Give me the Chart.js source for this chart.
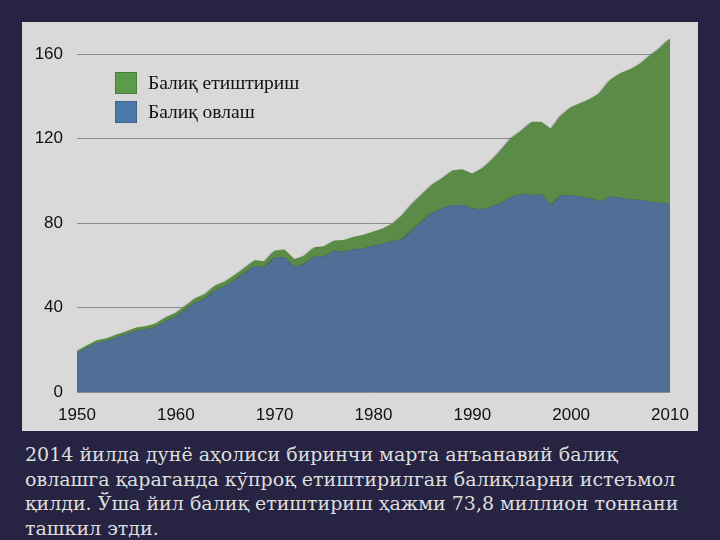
<!DOCTYPE html>
<html>
<head>
<meta charset="utf-8">
<script src="https://cdn.jsdelivr.net/npm/chart.js@4.4.1/dist/chart.umd.min.js"></script>
<style>
  html, body { margin: 0; padding: 0; }
  body { width: 720px; height: 540px; background: #262442; position: relative; overflow: hidden; }
  #panel { position: absolute; left: 22px; top: 22px; width: 676px; height: 409px; background: #d9d9d9; }
  #c { position: absolute; left: 0; top: 0; }
  #legend { position: absolute; left: 115px; top: 72px; font-family: "Liberation Serif", "Times New Roman", serif; font-size: 19.5px; color: #111; }
  .item { position: relative; height: 29px; }
  .sw { position: absolute; left: 0; top: 0; width: 22px; height: 22px; box-sizing: border-box; border: 1px solid rgba(0,0,0,0.18); }
  .lbl { position: absolute; left: 33px; top: 0; line-height: 22px; white-space: nowrap; }
  #caption { position: absolute; left: 25px; top: 442px; width: 690px; color: #dedede; font-family: "DejaVu Serif", serif; font-size: 19px; line-height: 24.6px; white-space: nowrap; }
</style>
</head>
<body>
<div id="panel"><canvas id="c" width="676" height="409"></canvas></div>
<div id="legend"></div>
<div id="caption"></div>
<script>
const years = [1950,1951,1952,1953,1954,1955,1956,1957,1958,1959,
  1960,1961,1962,1963,1964,1965,1966,1967,1968,1969,
  1970,1971,1972,1973,1974,1975,1976,1977,1978,1979,
  1980,1981,1982,1983,1984,1985,1986,1987,1988,1989,
  1990,1991,1992,1993,1994,1995,1996,1997,1998,1999,
  2000,2001,2002,2003,2004,2005,2006,2007,2008,2009,2010];
const capture = [18.5,21.0,23.3,24.2,25.8,27.3,29.0,29.6,30.8,33.6,
  35.6,39.0,42.4,44.3,48.2,50.1,53.0,56.4,59.6,59.0,
  63.6,63.8,59.3,60.5,64.0,64.2,66.9,66.4,67.6,68.0,
  69.2,70.2,71.5,72.5,77.0,81.0,85.0,87.0,88.5,88.5,
  87.0,86.5,87.7,89.5,92.5,93.7,93.3,93.5,88.5,93.0,
  93.3,92.5,91.5,90.5,92.5,92.0,91.0,91.0,90.0,89.5,89.0];
const aquaculture = [1.0,1.0,1.2,1.3,1.4,1.5,1.5,1.6,1.7,1.9,
  1.9,2.0,2.1,2.2,2.3,2.4,2.5,2.6,2.9,2.8,
  3.4,3.7,3.7,4.0,4.5,4.8,4.9,5.6,5.9,6.5,
  6.8,7.3,8.5,11.5,12.5,13.0,13.5,14.5,16.5,17.0,
  16.5,19.5,22.3,25.5,28.0,30.3,34.7,34.5,36.0,38.0,
  41.7,44.5,47.5,51.5,55.5,59.0,62.0,64.5,69.5,73.5,78.5];
const xTicks = [1950,1960,1970,1980,1990,2000,2010];
const yTicks = [0,40,80,120,160];
const seriesLabels = ["Балиқ етиштириш", "Балиқ овлаш"];
const captionLines = [
  "2014 йилда дунё аҳолиси биринчи марта анъанавий балиқ",
  "овлашга қараганда кўпроқ етиштирилган балиқларни истеъмол",
  "қилди. Ўша йил балиқ етиштириш ҳажми 73,8 миллион тоннани",
  "ташкил этди."
];

const GREEN = "#5a8b47";
const BLUE = "#4f6f96";

const legend = document.getElementById("legend");
[[seriesLabels[0], "#5b9c4a"], [seriesLabels[1], "#4b7aaa"]].forEach(([t, c]) => {
  const d = document.createElement("div"); d.className = "item";
  const s = document.createElement("div"); s.className = "sw"; s.style.background = c;
  const l = document.createElement("div"); l.className = "lbl"; l.textContent = t;
  d.appendChild(s); d.appendChild(l); legend.appendChild(d);
});
document.getElementById("caption").innerHTML = captionLines.map(s => s.replace(/&/g,"&amp;").replace(/</g,"&lt;")).join("<br>");

const shadowPlugin = {
  id: "areaShadow",
  beforeDatasetsDraw(chart) {
    const ctx = chart.ctx;
    ctx.save();
    ctx.shadowColor = "rgba(0,0,0,0.75)";
    ctx.shadowBlur = 2;
    ctx.shadowOffsetX = -2;
    ctx.shadowOffsetY = 2;
  },
  afterDatasetsDraw(chart) { chart.ctx.restore(); }
};

const tickFont = { family: "'Liberation Sans', Arial, sans-serif", size: 17 };

new Chart(document.getElementById("c"), {
  type: "line",
  data: {
    datasets: [
      { label: seriesLabels[1], data: years.map((y, i) => ({ x: y, y: capture[i] })),
        backgroundColor: BLUE, borderColor: "transparent", borderWidth: 1, pointRadius: 0, fill: "origin", tension: 0 },
      { label: seriesLabels[0], data: years.map((y, i) => ({ x: y, y: aquaculture[i] })),
        backgroundColor: GREEN, borderColor: "transparent", borderWidth: 1, pointRadius: 0, fill: "-1", tension: 0 }
    ]
  },
  options: {
    responsive: false,
    animation: false,
    devicePixelRatio: 1,
    layout: { padding: { left: 0, right: 28, top: 11, bottom: 0 } },
    plugins: { legend: { display: false }, tooltip: { enabled: false } },
    scales: {
      x: {
        type: "linear", min: 1950, max: 2010,
        afterBuildTicks(s) { s.ticks = xTicks.map(v => ({ value: v })); },
        afterFit(s) { s.height = 39; s.paddingLeft = 0; s.paddingRight = 0; },
        ticks: { font: tickFont, color: "#111", padding: 5, maxRotation: 0, callback: v => String(v) },
        grid: { display: false },
        border: { display: false }
      },
      y: {
        stacked: true, min: 0, max: 170,
        afterBuildTicks(s) { s.ticks = yTicks.map(v => ({ value: v })); },
        afterFit(s) { s.width = 55; s.paddingTop = 0; s.paddingBottom = 0; },
        ticks: { font: tickFont, color: "#111", padding: 14, callback: v => String(v) },
        grid: { color: "#8c8c8c", lineWidth: 1, drawTicks: false },
        border: { display: false }
      }
    }
  },
  plugins: [shadowPlugin]
});
</script>
</body>
</html>
